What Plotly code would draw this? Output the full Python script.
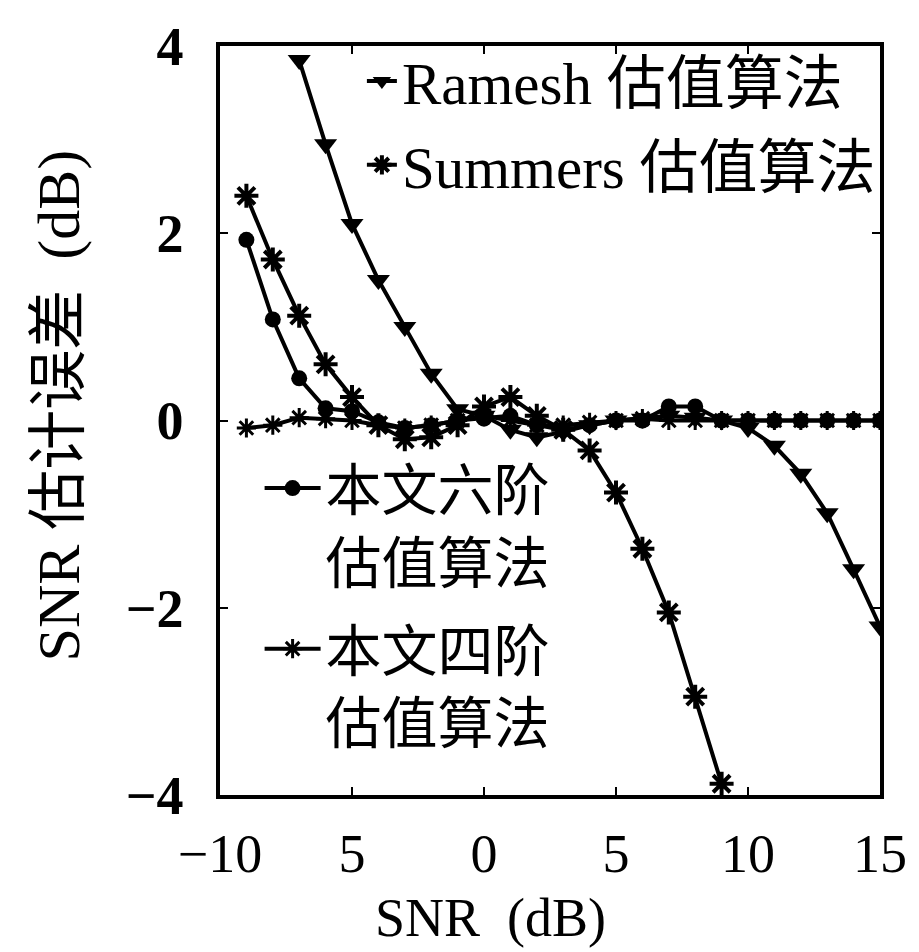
import plotly.graph_objects as go

# ---------------- data ----------------
snr_ramesh = list(range(-7, 16))
err_ramesh = [3.85, 2.95, 2.1, 1.5, 1.0, 0.5, 0.12, 0.05, -0.1, -0.18, -0.12, -0.05,
              0.0, 0.02, 0.05, 0.03, 0.0, -0.08, -0.27, -0.57, -0.99, -1.59, -2.2]

snr_summers = list(range(-9, 10))
err_summers = [2.4, 1.72, 1.12, 0.6, 0.25, -0.05, -0.2, -0.18, -0.05, 0.15, 0.25, 0.05,
               -0.1, -0.32, -0.77, -1.37, -2.05, -2.95, -3.88]

snr_six = list(range(-9, 16))
err_six = [1.93, 1.08, 0.45, 0.13, 0.1, -0.02, -0.08, -0.05, 0.0, 0.02, 0.05, -0.05,
           -0.1, -0.05, 0.0, 0.0, 0.15, 0.15, 0.0, 0.0, 0.0, 0.0, 0.0, 0.0, 0.0]

snr_four = list(range(-9, 16))
err_four = [-0.08, -0.05, 0.03, 0.02, 0.0, -0.05, -0.08, -0.05, 0.0, 0.05, 0.0, -0.05,
            -0.05, -0.02, 0.0, 0.02, 0.0, 0.0, 0.0, 0.0, 0.0, 0.0, 0.0, 0.0, 0.0]

x_tickvals = [-10, -5, 0, 5, 10, 15]
x_ticktext = ["\u221210", "5", "0", "5", "10", "15"]
y_tickvals = [-4, -2, 0, 2, 4]
y_ticktext = ["\u22124", "\u22122", "0", "2", "4"]

name_ramesh = "Ramesh 估值算法"
name_summers = "Summers 估值算法"
name_six = "本文六阶<br>估值算法"
name_four = "本文四阶<br>估值算法"
x_title = "SNR  (dB)"
y_title = "SNR 估计误差  (dB)"

FONT = "Liberation Serif, Noto Sans CJK SC, serif"
BLACK = "#000000"

fig = go.Figure()

fig.add_trace(go.Scatter(
    x=snr_four, y=err_four, mode="lines+markers", name=name_four,
    line=dict(color=BLACK, width=4),
    marker=dict(symbol="asterisk-open", size=16, color=BLACK, line=dict(color=BLACK, width=3)),
    legend="legend2", legendgroup="four", legendrank=2,
))
fig.add_trace(go.Scatter(
    x=snr_six, y=err_six, mode="lines+markers", name=name_six,
    line=dict(color=BLACK, width=4),
    marker=dict(symbol="circle", size=16, color=BLACK),
    legend="legend2", legendgroup="six", legendrank=1,
))
fig.add_trace(go.Scatter(
    x=snr_summers, y=err_summers, mode="lines+markers", name=name_summers,
    line=dict(color=BLACK, width=4),
    marker=dict(symbol="asterisk-open", size=20, color=BLACK, line=dict(color=BLACK, width=4)),
    legend="legend", legendgroup="summers", legendrank=2,
))
fig.add_trace(go.Scatter(
    x=snr_ramesh, y=err_ramesh, mode="lines+markers", name=name_ramesh,
    line=dict(color=BLACK, width=4),
    marker=dict(symbol="triangle-down", size=20, color=BLACK),
    legend="legend", legendgroup="ramesh", legendrank=1,
))

fig.update_layout(
    width=919, height=952,
    margin=dict(l=220, r=29, t=46, b=157),
    paper_bgcolor="white", plot_bgcolor="white",
    font=dict(family=FONT, color=BLACK, size=54),
    showlegend=True,
    legend=dict(
        x=0.215, y=1.013, xanchor="left", yanchor="top",
        font=dict(family=FONT, size=59, color=BLACK),
        bgcolor="rgba(0,0,0,0)", borderwidth=0,
        traceorder="grouped", tracegroupgap=4, itemwidth=30,
    ),
    legend2=dict(
        x=0.06, y=0.467, xanchor="left", yanchor="top", valign="top",
        font=dict(family=FONT, size=56, color=BLACK),
        bgcolor="rgba(0,0,0,0)", borderwidth=0,
        traceorder="grouped", tracegroupgap=12, itemwidth=56,
    ),
    xaxis=dict(
        range=[-10, 15], tickvals=x_tickvals, ticktext=x_ticktext,
        showgrid=False, zeroline=False,
        showline=True, linecolor=BLACK, linewidth=3.5, mirror="ticks",
        ticks="inside", ticklen=8, tickwidth=2, tickcolor=BLACK,
        tickfont=dict(family=FONT, size=54, color=BLACK),
        ticklabelstandoff=8,
    ),
    yaxis=dict(
        range=[-4, 4], tickvals=y_tickvals, ticktext=y_ticktext,
        showgrid=False, zeroline=False,
        showline=True, linecolor=BLACK, linewidth=3.5, mirror="ticks",
        ticks="inside", ticklen=8, tickwidth=2, tickcolor=BLACK,
        tickfont=dict(family=FONT, size=54, color=BLACK, weight="bold"),
        ticklabelstandoff=22,
    ),
)

# axis titles
fig.add_annotation(text=x_title, xref="paper", yref="paper",
                   x=(495 - 220) / 670, y=(795 - 918) / 749, xanchor="center", yanchor="middle",
                   showarrow=False, font=dict(family=FONT, size=54, color=BLACK))
fig.add_annotation(text=y_title, xref="paper", yref="paper",
                   x=(57 - 220) / 670, y=(795 - 405) / 749, xanchor="center", yanchor="middle",
                   textangle=-90, showarrow=False, font=dict(family=FONT, size=60, color=BLACK))

fig.write_html("out.html")
